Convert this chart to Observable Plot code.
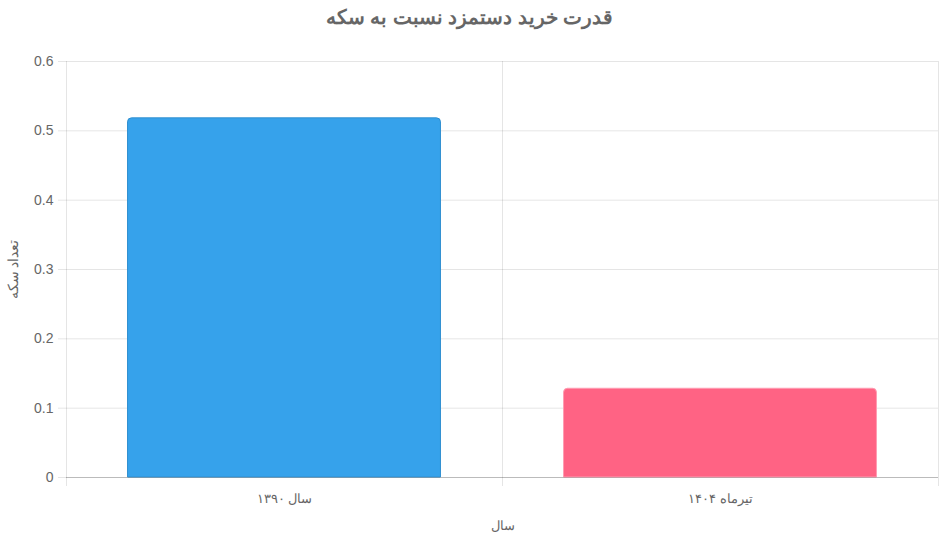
<!DOCTYPE html>
<html>
<head>
<meta charset="utf-8">
<script src="https://cdn.jsdelivr.net/npm/d3@7"></script>
<script src="https://cdn.jsdelivr.net/npm/@observablehq/plot@0.6"></script>
<style>
  html, body { margin: 0; padding: 0; background: #fff; }
  body { width: 939px; height: 542px; overflow: hidden; font-family: "Helvetica Neue", Helvetica, Arial, "Liberation Sans", sans-serif; }
  #title { height: 36px; line-height: 35px; text-align: center; font-size: 20px; font-weight: bold; color: #666; direction: rtl; }
</style>
</head>
<body>
<div id="title">قدرت خرید دستمزد نسبت به سکه</div>
<div id="chart"></div>
<script>
const categories = ["سال ۱۳۹۰", "تیرماه ۱۴۰۴"];
const values = [0.518, 0.128];
const colors = ["#36A2EB", "#FF6384"];
const borders = ["#2f8fd0", "#ff9cb2"];
const yTicks = [0, 0.1, 0.2, 0.3, 0.4, 0.5, 0.6];
const yLabel = "تعداد سکه";
const xLabel = "سال";

const data = categories.map((c, i) => ({i, c, v: values[i], fill: colors[i], stroke: borders[i]}));
const bandEdges = d3.range(categories.length + 1);
const bandCenters = categories.map((c, i) => i + 0.5);
const W = 939, H = 506, mL = 66, mR = 1;
const band = (W - mL - mR) / categories.length;
const inset = band * (1 - 0.9 * 0.8) / 2;

const chart = Plot.plot({
  width: W,
  height: H,
  marginLeft: mL,
  marginRight: mR,
  marginTop: 25,
  marginBottom: 65,
  style: {fontFamily: '"Helvetica Neue", Helvetica, Arial, "Liberation Sans", sans-serif', color: "#666", background: "#fff"},
  x: {domain: [0, categories.length]},
  y: {domain: [0, 0.6]},
  marks: [
    Plot.gridY(yTicks, {stroke: "#000", strokeOpacity: 0.1}),
    Plot.gridX(bandEdges, {stroke: "#000", strokeOpacity: 0.1}),
    Plot.axisX(bandEdges, {tickSize: 9, tickFormat: () => "", stroke: "#000", strokeOpacity: 0.1, label: null}),
    Plot.axisX(bandCenters, {tickSize: 0, tickPadding: 16, fontSize: 13, fill: "#666",
      tickFormat: d => categories[Math.floor(d)], label: xLabel, labelAnchor: "center", labelArrow: "none", labelOffset: 52}),
    Plot.axisY(yTicks, {tickSize: 8, tickPadding: 5, fontSize: 14, fill: "#666", stroke: "#000", strokeOpacity: 0.1,
      tickFormat: d => d === 0 ? "0" : d.toFixed(1), label: yLabel, labelAnchor: "center", labelArrow: "none", labelOffset: 58}),
    Plot.rectY(data, {x1: "i", x2: d => d.i + 1, y: "v", fill: "fill", stroke: "stroke", strokeWidth: 1,
      insetLeft: inset + 0.5, insetRight: inset + 0.5, ry2: 4}),
    Plot.ruleY([0], {stroke: "#000", strokeOpacity: 0.18})
  ]
});
document.getElementById("chart").appendChild(chart);
</script>
</body>
</html>
